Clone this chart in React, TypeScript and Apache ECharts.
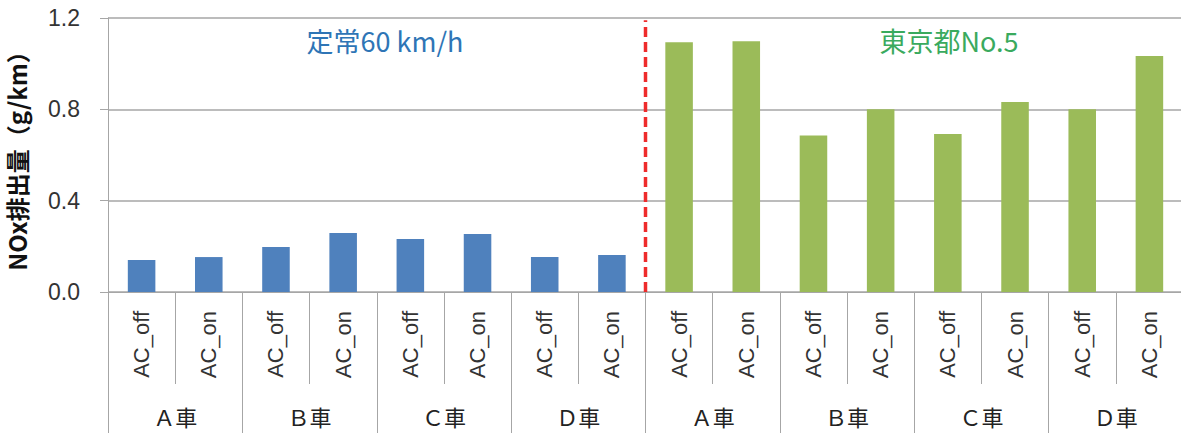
import React, { useEffect, useRef } from "react";
import * as echarts from "echarts";

const conditions = ["AC_off", "AC_on", "AC_off", "AC_on", "AC_off", "AC_on", "AC_off", "AC_on",
  "AC_off", "AC_on", "AC_off", "AC_on", "AC_off", "AC_on", "AC_off", "AC_on"];
const vehicles = ["Ａ車", "Ｂ車", "Ｃ車", "Ｄ車", "Ａ車", "Ｂ車", "Ｃ車", "Ｄ車"];
const constSpeed60 = [0.14, 0.153, 0.197, 0.258, 0.232, 0.254, 0.153, 0.162];
const tokyoNo5 = [1.094, 1.098, 0.685, 0.80, 0.692, 0.832, 0.80, 1.034];
const yTicks = [0, 0.4, 0.8, 1.2];
// divider between the two test cycles (boundary index on a 0..16 scale), spanning y 0 → 1.19
const divider = [[8, 0], [8, 1.19]];

const BLUE = "#4F81BD";
const GREEN = "#9BBB59";

export default function App() {
  const ref = useRef<HTMLDivElement>(null);
  useEffect(() => {
    if (!ref.current) return;
    const chart = echarts.init(ref.current, undefined, { renderer: "svg" });
    const data = [
      ...constSpeed60.map((v) => ({ value: v, itemStyle: { color: BLUE } })),
      ...tokyoNo5.map((v) => ({ value: v, itemStyle: { color: GREEN } })),
    ];
    chart.setOption({
      animation: false,
      backgroundColor: "#fff",
      grid: { left: 108, right: -2, top: 18, bottom: 141, containLabel: false, outerBoundsMode: "none" },
      xAxis: [
        {
          type: "category",
          data: conditions,
          position: "bottom",
          axisLine: { lineStyle: { color: "#a6a6a6", width: 1 } },
          axisTick: { show: true, interval: 0, length: 92, lineStyle: { color: "#a6a6a6" } },
          axisLabel: {
            interval: 0,
            rotate: 90,
            margin: 19,
            fontSize: 22,
            color: "#333",
            fontFamily: "Liberation Sans, Arial, sans-serif",
          },
        },
        {
          type: "category",
          data: vehicles,
          position: "bottom",
          axisLine: { show: false },
          axisTick: { show: true, interval: 0, length: 141, lineStyle: { color: "#a6a6a6" } },
          axisLabel: {
            interval: 0,
            margin: 113,
            fontSize: 22,
            color: "#222",
            fontFamily: "Noto Sans CJK JP, sans-serif",
          },
        },
        {
          type: "value",
          min: 0,
          max: 16,
          show: false,
        },
      ],
      yAxis: {
        type: "value",
        min: 0,
        max: 1.2,
        interval: 0.4,
        name: "NOx排出量（g/km）",
        nameLocation: "middle",
        nameGap: 80,
        nameRotate: 90,
        nameTextStyle: {
          fontSize: 24,
          lineHeight: 24,
          fontWeight: "bold",
          color: "#111",
          fontFamily: "Noto Sans CJK JP, sans-serif",
        },
        axisLine: { show: true, lineStyle: { color: "#a6a6a6" } },
        axisTick: { show: true, length: 8, lineStyle: { color: "#a6a6a6" } },
        axisLabel: {
          fontSize: 23,
          color: "#333",
          margin: 28,
          fontFamily: "Liberation Sans, Arial, sans-serif",
          formatter: (v: number) => (yTicks.includes(Math.round(v * 10) / 10) ? v.toFixed(1) : ""),
        },
        splitLine: { show: true, lineStyle: { color: "#a6a6a6", width: 1.5 } },
      },
      series: [
        {
          type: "bar",
          data,
          barWidth: "41%",
          xAxisIndex: 0,
        },
        {
          type: "line",
          xAxisIndex: 2,
          data: divider,
          symbol: "none",
          silent: true,
          lineStyle: { color: "#EE2B2B", width: 3.5, type: [10, 5] },
        },
      ],
      graphic: [
        {
          type: "text",
          x: 385,
          y: 40,
          style: {
            text: "定常60 km/h",
            fill: "#2E75B6",
            fontSize: 27,
            fontFamily: "Noto Sans CJK JP, sans-serif",
            textAlign: "center",
            textVerticalAlign: "middle",
          },
        },
        {
          type: "text",
          x: 949,
          y: 40,
          style: {
            text: "東京都No.5",
            fill: "#3AAA5E",
            fontSize: 27,
            fontFamily: "Noto Sans CJK JP, sans-serif",
            textAlign: "center",
            textVerticalAlign: "middle",
          },
        },
      ],
    });
    return () => chart.dispose();
  }, []);
  return (
    <div
      ref={ref}
      style={{ position: "absolute", left: 0, top: 0, width: 1181, height: 433 }}
    />
  );
}
